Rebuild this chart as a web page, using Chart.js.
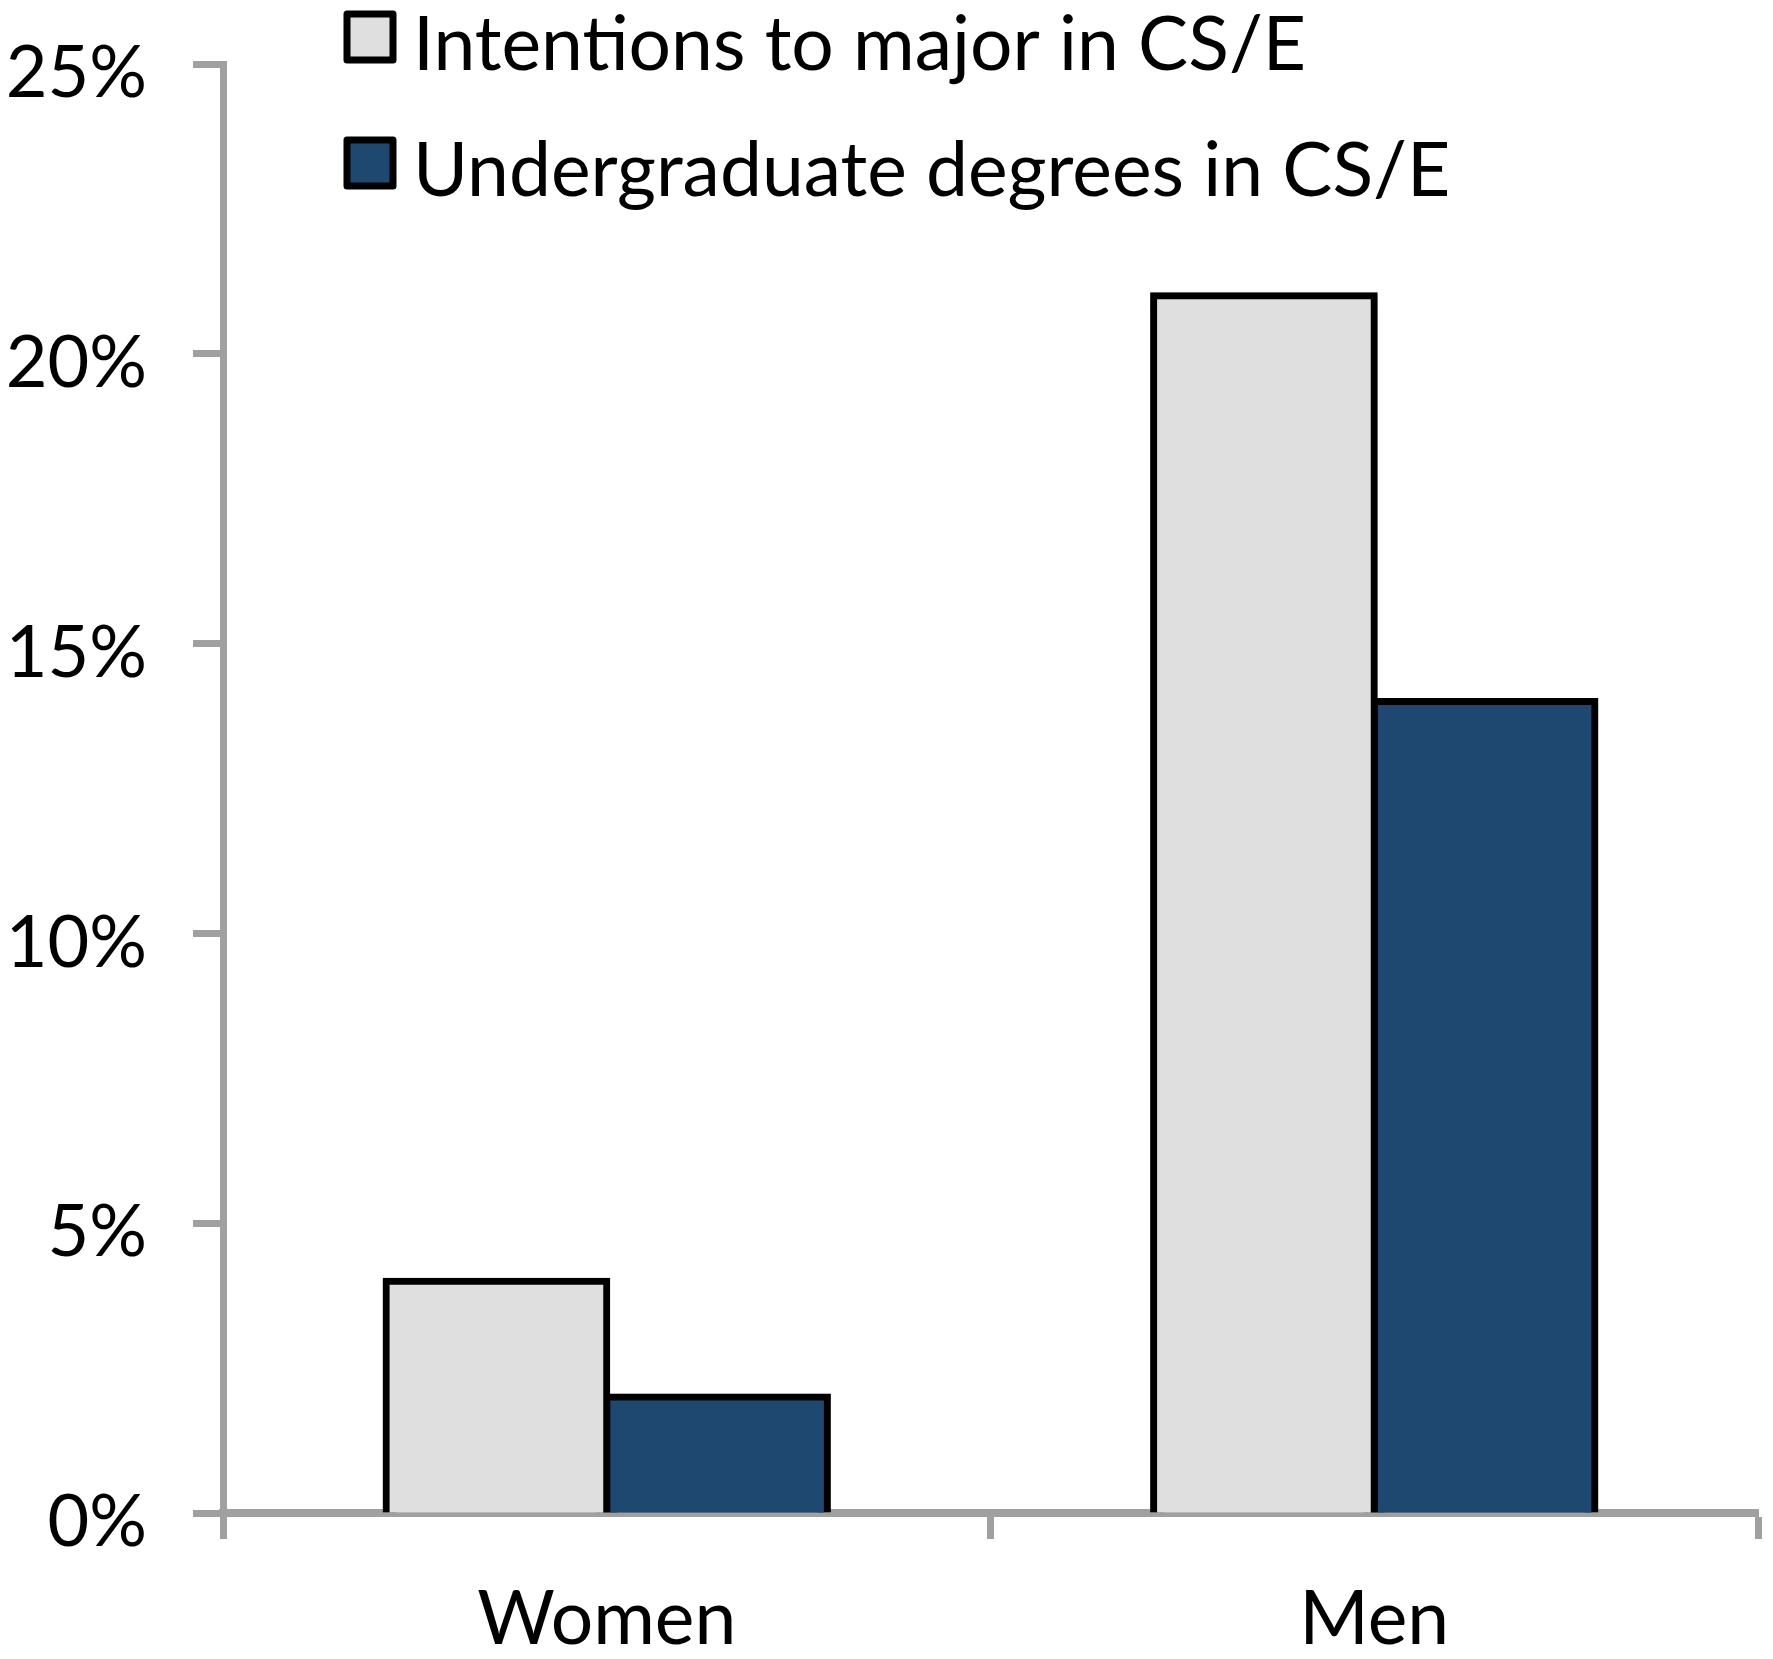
<!DOCTYPE html>
<html>
<head>
<meta charset="utf-8">
<script src="https://cdn.jsdelivr.net/npm/chart.js@4"></script>
<style>
  html, body { margin: 0; padding: 0; background: #fff; }
  #wrap { width: 1773px; height: 1659px; }
</style>
</head>
<body>
<div id="wrap"><canvas id="myChart"></canvas></div>
<script>
    var categories = ['Women', 'Men'];
    var intentions = [4.0, 21.0];
    var degrees = [2.0, 14.0];
    var yTicks = [0, 5, 10, 15, 20, 25];

    var axisGray = '#a0a0a0';
    var font = 'Lato';

    // legend drawn over the plot, stacked top-left like the original
    var stackedLegend = {
        id: 'stackedLegend',
        afterDraw: (chart) => {
            var ctx = chart.ctx;
            ctx.save();
            chart.data.datasets.forEach((ds, i) => {
                var top = 14 + i * 126;
                ctx.fillStyle = ds.backgroundColor;
                ctx.strokeStyle = '#000';
                ctx.lineWidth = 7;
                ctx.lineJoin = 'round';
                ctx.fillRect(347, top, 46, 46);
                ctx.strokeRect(347, top, 46, 46);
                ctx.fillStyle = '#000';
                ctx.font = '75px ' + font;
                ctx.textBaseline = 'middle';
                ctx.fillText(ds.label, 413, top + 32);
            });
            ctx.restore();
        }
    };

    // soft drop shadow behind the bars
    var barShadow = {
        id: 'barShadow',
        beforeDatasetsDraw: (chart) => {
            var ctx = chart.ctx;
            ctx.save();
            ctx.shadowColor = 'rgba(0,0,0,0.22)';
            ctx.shadowBlur = 10;
        },
        afterDatasetsDraw: (chart) => {
            chart.ctx.restore();
        }
    };

    var ctx = document.getElementById('myChart').getContext('2d');
    var chart = new Chart(ctx, {
        type: 'bar',
        data: {
            labels: categories,
            datasets: [
                {
                    label: 'Intentions to major in CS/E',
                    backgroundColor: '#dfdfdf',
                    borderColor: '#000',
                    borderWidth: 7,
                    inflateAmount: 3.5,
                    data: intentions
                },
                {
                    label: 'Undergraduate degrees in CS/E',
                    backgroundColor: '#1f4870',
                    borderColor: '#000',
                    borderWidth: 7,
                    inflateAmount: 3.5,
                    data: degrees
                },
            ]
        },
        options: {
            responsive: true,
            maintainAspectRatio: false,
            animation: false,
            devicePixelRatio: 1,
            categoryPercentage: 0.575,
            barPercentage: 1,
            layout: { padding: { top: 64, right: 15, left: 0, bottom: 0 } },
            plugins: {
                legend: { display: false },
                tooltip: { enabled: false }
            },
            scales: {
                x: {
                    z: 1,
                    afterFit: (scale) => { scale.height = 146; },
                    grid: {
                        offset: true,
                        drawOnChartArea: false,
                        drawTicks: true,
                        tickLength: 26,
                        tickWidth: 7,
                        tickColor: axisGray
                    },
                    border: { color: axisGray, width: 8 },
                    ticks: {
                        color: '#000',
                        padding: 36,
                        font: { family: font, size: 75 }
                    }
                },
                y: {
                    min: 0,
                    max: 25,
                    afterFit: (scale) => {
                        scale.width = 223;
                        scale.paddingTop = 0;
                        scale.paddingBottom = 0;
                    },
                    afterBuildTicks: (scale) => {
                        scale.ticks = yTicks.map(v => ({ value: v }));
                    },
                    grid: {
                        drawOnChartArea: false,
                        drawTicks: true,
                        tickLength: 30,
                        tickWidth: 7,
                        tickColor: axisGray
                    },
                    border: { color: axisGray, width: 7 },
                    ticks: {
                        color: '#000',
                        padding: 46,
                        labelOffset: 10,
                        font: { family: font, size: 72 },
                        callback: (v) => v + '%'
                    }
                }
            }
        },
        plugins: [barShadow, stackedLegend]
    });
</script>
</body>
</html>
